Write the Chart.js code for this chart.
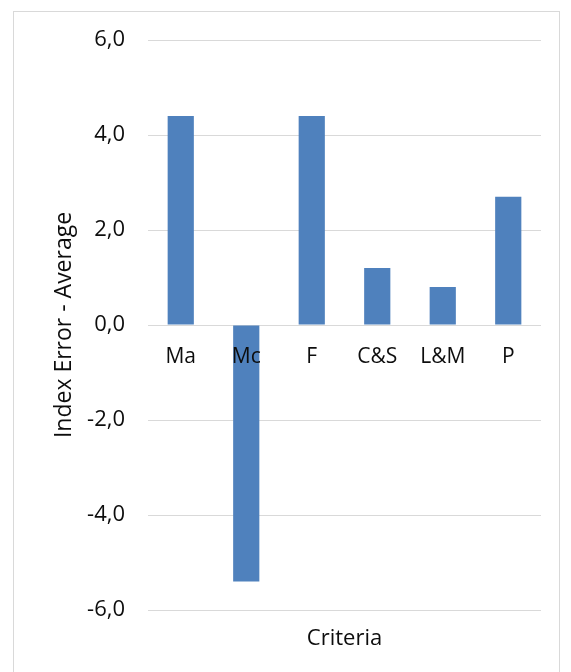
<!DOCTYPE html>
<html>
<head>
<meta charset="utf-8">
<script src="https://cdn.jsdelivr.net/npm/chart.js@4"></script>
<style>
  html, body { margin: 0; padding: 0; background: #ffffff; }
  #wrap { position: relative; width: 571px; height: 672px; overflow: hidden; }
  #frame { position: absolute; left: 13px; top: 11px; width: 547px; height: 700px; border: 1px solid #d9d9d9; box-sizing: border-box; }
  canvas { position: absolute; left: 0; top: 0; }
</style>
</head>
<body>
<div id="wrap">
  <div id="frame"></div>
  <canvas id="c" width="571" height="672"></canvas>
</div>
<script>
const categories = ["Ma", "Mc", "F", "C&S", "L&M", "P"];
const values = [4.4, -5.4, 4.4, 1.2, 0.8, 2.7];
const yTitle = "Index Error - Average";
const xTitle = "Criteria";

const FONT = "'Open Sans', sans-serif";
const TXT = "#0d0d0d";

new Chart(document.getElementById("c"), {
  type: "bar",
  data: {
    labels: categories,
    datasets: [{
      data: values,
      backgroundColor: "#4f81bd",
      borderWidth: 0,
      barPercentage: 0.4,
      categoryPercentage: 1.0,
      xAxisID: "x",
      yAxisID: "y"
    }]
  },
  options: {
    responsive: false,
    animation: false,
    devicePixelRatio: 1,
    layout: { padding: { left: 0, right: 30, top: 40, bottom: 0 } },
    plugins: { legend: { display: false }, tooltip: { enabled: false }, title: { display: false } },
    scales: {
      x: {
        type: "category",
        position: { y: 0 },
        grid: { display: false, drawTicks: false },
        border: { display: false },
        ticks: { z: 1, color: TXT, font: { family: FONT, size: 21 }, padding: 19, maxRotation: 0, autoSkip: false }
      },
      x2: {
        type: "category",
        labels: categories,
        position: "bottom",
        grid: { display: false, drawTicks: false },
        border: { display: false },
        ticks: { display: false },
        title: { display: true, text: xTitle, color: TXT, font: { family: FONT, size: 22 }, padding: { top: 16, bottom: 20 } },
        afterFit: (s) => { s.height = 62; }
      },
      y: {
        min: -6, max: 6,
        grid: { color: "#d9d9d9", lineWidth: 1, drawTicks: false },
        border: { display: false },
        ticks: {
          stepSize: 2, padding: 23, color: TXT, font: { family: FONT, size: 22 },
          callback: (v) => v.toFixed(1).replace(".", ",")
        },
        title: { display: true, text: yTitle, color: TXT, font: { family: FONT, size: 23 }, padding: { top: 51, bottom: 4 } },
        afterFit: (s) => { s.width = 148; }
      }
    }
  }
});
</script>
</body>
</html>
